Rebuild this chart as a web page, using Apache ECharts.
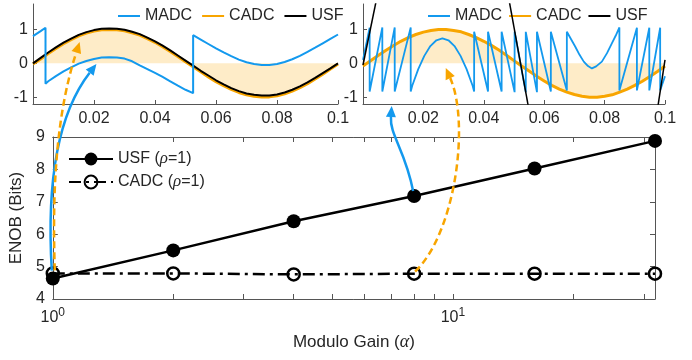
<!DOCTYPE html>
<html>
<head>
<meta charset="utf-8">
<style>html,body{margin:0;padding:0;background:#fff}#main{width:692px;height:360px}</style>
<script src="https://cdn.jsdelivr.net/npm/echarts@6.0.0/dist/echarts.min.js"></script>
</head>
<body>
<div id="main"></div>
<script>
// 主图数据 (ENOB vs 模增益)
var alphaVals = [1, 2, 4, 8, 16, 32];
var usfEnob = [4.63, 5.5, 6.4, 7.18, 8.03, 8.88];
var cadcEnob = [4.79, 4.79, 4.76, 4.78, 4.78, 4.78];
var xTickVals = [1, 2, 3, 4, 5, 6, 7, 8, 9, 10, 20, 30];
var xLabelVals = [1, 10];
var insetYTicks = [-1, 0, 1];

// 小图时间轴
var tGrid = [0, 0.0025, 0.005, 0.0075, 0.01, 0.0125, 0.015, 0.0175, 0.02, 0.0225, 0.025,
    0.0275, 0.03, 0.0325, 0.035, 0.0375, 0.04, 0.0425, 0.045, 0.0475, 0.05,
    0.0525, 0.055, 0.0575, 0.06, 0.0625, 0.065, 0.0675, 0.07, 0.0725, 0.075,
    0.0775, 0.08, 0.0825, 0.085, 0.0875, 0.09, 0.0925, 0.095, 0.0975, 0.1];

// 左小图 (alpha = 1)
var usfLeft = [0, 0.16, 0.32, 0.47, 0.61, 0.73, 0.84, 0.92, 0.98, 1.02, 1.03,
    1.02, 0.99, 0.93, 0.86, 0.76, 0.65, 0.52, 0.38, 0.23, 0.08,
    -0.07, -0.22, -0.36, -0.5, -0.62, -0.73, -0.82, -0.89, -0.93, -0.95,
    -0.95, -0.92, -0.86, -0.78, -0.68, -0.56, -0.43, -0.29, -0.15, 0];
var cadcLeft = [-0.02, 0.13, 0.29, 0.44, 0.58, 0.7, 0.81, 0.89, 0.95, 0.99, 1.0,
    0.99, 0.96, 0.9, 0.83, 0.73, 0.62, 0.49, 0.35, 0.2, 0.05,
    -0.1, -0.25, -0.4, -0.54, -0.66, -0.77, -0.86, -0.93, -0.97, -0.99,
    -0.99, -0.96, -0.9, -0.82, -0.72, -0.6, -0.46, -0.32, -0.17, -0.02];
var madcLeft = [[0, 0.8], [0.0025, 0.95], [0.0041, 1.05], [0.0041, -0.6], [0.005, -0.53],
    [0.0075, -0.38], [0.01, -0.24], [0.0125, -0.12], [0.015, -0.01], [0.0175, 0.07],
    [0.02, 0.13], [0.0225, 0.17], [0.025, 0.18], [0.0275, 0.17], [0.03, 0.14],
    [0.0325, 0.06], [0.035, -0.06], [0.0375, -0.17], [0.04, -0.28], [0.0425, -0.4],
    [0.045, -0.53], [0.0475, -0.66], [0.05, -0.78], [0.0525, -0.88], [0.0525, 0.83],
    [0.055, 0.7], [0.0575, 0.57], [0.06, 0.44], [0.0625, 0.32], [0.065, 0.21],
    [0.0675, 0.11], [0.07, 0.03], [0.0725, -0.02], [0.075, -0.05], [0.0775, -0.05],
    [0.08, -0.02], [0.0825, 0.04], [0.085, 0.12], [0.0875, 0.22], [0.09, 0.34],
    [0.0925, 0.46], [0.095, 0.59], [0.0975, 0.72], [0.1, 0.85]];

// 右小图 (alpha = 8)
var cadcRight = [-0.08, 0.075, 0.23, 0.38, 0.52, 0.65, 0.76, 0.85, 0.92, 0.97, 1.0,
    1.0, 0.97, 0.93, 0.85, 0.76, 0.65, 0.53, 0.39, 0.24, 0.08,
    -0.08, -0.23, -0.38, -0.52, -0.65, -0.76, -0.85, -0.92, -0.97, -1.0,
    -1.0, -0.97, -0.93, -0.85, -0.76, -0.65, -0.53, -0.39, -0.24, -0.08];
var usfRightA = [[0, -0.05], [0.0045, 1.9]];
var usfRightB = [[0.0485, 1.8], [0.0548, -1.3]];
var usfRightC = [[0.0976, -1.3], [0.1, 0.1]];
var madcRight = [[0, 0.1], [0.0022, 1.05], [0.0022, -0.83], [0.0064, 1.06], [0.0064, -0.83],
    [0.0105, 1.06], [0.0105, -0.83], [0.0158, 1.06], [0.0158, -0.83],
    [0.0163, -0.66], [0.0183, -0.17], [0.0203, 0.22], [0.0223, 0.51], [0.0243, 0.68],
    [0.0263, 0.735], [0.0283, 0.68], [0.0303, 0.51], [0.0323, 0.22], [0.0343, -0.17],
    [0.0363, -0.66], [0.0368, -0.83], [0.0368, 0.93], [0.0414, -0.83], [0.0414, 0.93],
    [0.0459, -0.83], [0.0459, 0.93], [0.0502, -0.85], [0.0502, 0.93], [0.0539, -0.85],
    [0.0539, 0.93], [0.0576, -0.85], [0.0576, 0.93], [0.0622, -0.83], [0.0622, 0.93],
    [0.0675, -0.8], [0.0675, 0.93], [0.0703, 0.49], [0.0717, 0.25], [0.0731, 0.05],
    [0.0745, -0.08], [0.0758, -0.15], [0.0772, -0.09], [0.0791, 0.05], [0.0808, 0.3],
    [0.0824, 0.59], [0.0837, 0.82], [0.0849, 1.06], [0.0849, -0.8], [0.0907, 1.05],
    [0.0907, -0.8], [0.0948, 1.05], [0.0948, -0.8], [0.0984, 1.05], [0.0984, -0.8],
    [0.1, -0.38]];

(function() {
    var myChart = echarts.init(document.getElementById('main'));

    var FONT = 'Liberation Sans';
    var TXT = '#262626';
    var AX = '#555';
    var BLUE = '#1399ee';
    var ORANGE = '#f8a500';
    var FILL = 'rgba(250,175,30,0.35)';

    function pairs(xs, ys) {
        var out = [];
        for (var i = 0; i < xs.length; i++) out.push([xs[i], ys[i]]);
        return out;
    }

    function insetX(gi) {
        return {
            gridIndex: gi, type: 'value', min: 0, max: 0.1, interval: 0.02,
            axisLine: { onZero: false, lineStyle: { color: AX, width: 1 } },
            axisTick: { inside: true, length: 4, lineStyle: { color: AX } },
            axisLabel: {
                margin: 7, fontSize: 16, color: TXT, fontFamily: FONT,
                formatter: function(v) { return v === 0 ? '' : String(+v.toFixed(2)); }
            },
            splitLine: { show: false }
        };
    }

    function insetY(gi) {
        return {
            gridIndex: gi, type: 'value', min: -1.2, max: 1.75,
            axisLine: { show: true, onZero: false, lineStyle: { color: AX, width: 1 } },
            axisTick: { show: true, inside: true, length: 4, customValues: insetYTicks, lineStyle: { color: AX } },
            axisLabel: { customValues: insetYTicks, margin: 5, fontSize: 16, color: TXT, fontFamily: FONT },
            splitLine: { show: false }
        };
    }

    function lineSeries(name, xi, data, color, width, z) {
        return {
            name: name, type: 'line', xAxisIndex: xi, yAxisIndex: xi, data: data,
            symbol: 'none', lineStyle: { color: color, width: width }, itemStyle: { color: color },
            z: z, silent: true, animation: false
        };
    }

    function fillSeries(xi, data) {
        return {
            type: 'line', xAxisIndex: xi, yAxisIndex: xi, data: data, symbol: 'none',
            lineStyle: { width: 0 }, areaStyle: { color: FILL, origin: 'auto' },
            z: 1, silent: true, animation: false
        };
    }

    var legendText = { fontSize: 16, color: TXT, fontFamily: FONT };

    option = {
        backgroundColor: '#fff',
        animation: false,
        grid: [
            { left: 33, top: 4, width: 305, height: 100 },
            { left: 363, top: 4, width: 302, height: 100 },
            { left: 51, top: 137, width: 604, height: 162 }
        ],
        legend: [
            {
                left: 118, top: 8, padding: 0, icon: 'rect', itemWidth: 22, itemHeight: 2, itemGap: 10,
                selectedMode: false, data: ['MADC', 'CADC', 'USF'], textStyle: legendText
            },
            {
                left: 428, top: 8, padding: 0, icon: 'rect', itemWidth: 22, itemHeight: 2, itemGap: 7,
                selectedMode: false,
                data: [{ name: 'MADC', textStyle: { width: 66 } }, 'CADC', 'USF'],
                textStyle: legendText
            },
            {
                left: 68, top: 150, padding: 0, orient: 'vertical', itemWidth: 44, itemHeight: 16, itemGap: 5,
                selectedMode: false,
                data: ['USF (ρ=1)', 'CADC (ρ=1)'],
                formatter: function(n) { return n.replace('ρ', '{i|ρ}'); },
                textStyle: {
                    fontSize: 16, color: TXT, fontFamily: FONT, lineHeight: 18,
                    rich: { i: { fontStyle: 'italic', fontFamily: 'Liberation Serif', fontSize: 17, color: TXT } }
                }
            }
        ],
        xAxis: [
            insetX(0),
            insetX(1),
            {
                gridIndex: 2, type: 'log', logBase: 10, min: 1, max: 32,
                name: '{n|Modulo Gain (}{i|α}{n|)}', nameLocation: 'middle', nameGap: 34,
                nameTextStyle: {
                    rich: {
                        n: { fontSize: 17, color: TXT, fontFamily: FONT },
                        i: { fontSize: 18, color: TXT, fontFamily: 'Liberation Serif', fontStyle: 'italic' }
                    }
                },
                axisLine: { onZero: false, lineStyle: { color: AX, width: 1 } },
                axisTick: { inside: true, length: 5, customValues: xTickVals, lineStyle: { color: AX } },
                axisLabel: {
                    customValues: xLabelVals, margin: 8,
                    formatter: function(v) { return '{b|10}{s|' + Math.round(Math.log(v) / Math.LN10) + '}'; },
                    rich: {
                        b: { fontSize: 16, color: TXT, fontFamily: FONT },
                        s: { fontSize: 12, color: TXT, fontFamily: FONT, padding: [0, 0, 9, 0] }
                    }
                },
                splitLine: { show: false }
            },
            {
                gridIndex: 2, type: 'log', logBase: 10, min: 1, max: 32, position: 'top',
                axisLine: { onZero: false, lineStyle: { color: AX, width: 1 } },
                axisTick: { inside: true, length: 5, customValues: xTickVals, lineStyle: { color: AX } },
                axisLabel: { show: false },
                splitLine: { show: false }
            }
        ],
        yAxis: [
            insetY(0),
            insetY(1),
            {
                gridIndex: 2, type: 'value', min: 4, max: 9, interval: 1,
                name: 'ENOB (Bits)', nameLocation: 'middle', nameGap: 20,
                nameTextStyle: { fontSize: 17, color: TXT, fontFamily: FONT },
                axisLine: { show: true, onZero: false, lineStyle: { color: AX, width: 1 } },
                axisTick: { show: true, inside: true, length: 5, lineStyle: { color: AX } },
                axisLabel: { margin: 8, fontSize: 16, color: TXT, fontFamily: FONT },
                splitLine: { show: false }
            },
            {
                gridIndex: 2, type: 'value', min: 4, max: 9, interval: 1, position: 'right',
                axisLine: { show: true, onZero: false, lineStyle: { color: AX, width: 1 } },
                axisTick: { show: true, inside: true, length: 5, lineStyle: { color: AX } },
                axisLabel: { show: false },
                splitLine: { show: false }
            }
        ],
        series: [
            // 左小图
            fillSeries(0, pairs(tGrid, cadcLeft)),
            lineSeries('CADC', 0, pairs(tGrid, cadcLeft), ORANGE, 3, 2),
            lineSeries('USF', 0, pairs(tGrid, usfLeft), '#000', 2, 3),
            lineSeries('MADC', 0, madcLeft, BLUE, 2, 4),
            // 右小图
            fillSeries(1, pairs(tGrid, cadcRight)),
            lineSeries('CADC', 1, pairs(tGrid, cadcRight), ORANGE, 3, 2),
            lineSeries('MADC', 1, madcRight, BLUE, 1.8, 3),
            lineSeries('USF', 1, usfRightA, '#000', 1.5, 4),
            lineSeries('USF', 1, usfRightB, '#000', 1.5, 4),
            lineSeries('USF', 1, usfRightC, '#000', 1.5, 4),
            // 主图
            {
                name: 'USF (ρ=1)', type: 'line', xAxisIndex: 2, yAxisIndex: 2,
                data: pairs(alphaVals, usfEnob), symbol: 'circle', symbolSize: 14,
                lineStyle: { color: '#000', width: 2.5 }, itemStyle: { color: '#000' }, z: 5
            },
            {
                name: 'CADC (ρ=1)', type: 'line', xAxisIndex: 2, yAxisIndex: 2,
                data: pairs(alphaVals, cadcEnob), symbol: 'circle', symbolSize: 12,
                lineStyle: { color: '#000', width: 2.5, type: [12, 5, 3, 5] },
                itemStyle: { color: 'rgba(255,255,255,0)', borderColor: '#000', borderWidth: 2.5 }, z: 5
            }
        ]
    };

    myChart.setOption(option);

    // 箭头: 从主图的点指向小图
    function px(xi, p) {
        return myChart.convertToPixel({ xAxisIndex: xi, yAxisIndex: xi }, p);
    }
    function add(p, d) { return [p[0] + d[0], p[1] + d[1]]; }
    function arrow(p0, c1, c2, tip, color, dashed) {
        var dx = tip[0] - c2[0], dy = tip[1] - c2[1];
        var len = Math.sqrt(dx * dx + dy * dy);
        dx /= len; dy /= len;
        var L = 11, W = 5;
        var base = [tip[0] - dx * L, tip[1] - dy * L];
        var nx = -dy, ny = dx;
        return [{
            type: 'bezierCurve', z: 100, silent: true,
            shape: { x1: p0[0], y1: p0[1], cpx1: c1[0], cpy1: c1[1], cpx2: c2[0], cpy2: c2[1], x2: base[0], y2: base[1] },
            style: { stroke: color, lineWidth: 2.5, fill: 'none', lineDash: dashed ? [7, 4] : null }
        }, {
            type: 'polygon', z: 100, silent: true,
            shape: { points: [tip, [base[0] + nx * W, base[1] + ny * W], [base[0] - nx * W, base[1] - ny * W]] },
            style: { fill: color }
        }];
    }

    var b1p = add(px(2, [alphaVals[0], usfEnob[0]]), [-1, -8]);
    var b1t = px(0, [0.0208, -0.02]);
    var o1p = add(px(2, [alphaVals[0], cadcEnob[0]]), [2, -3]);
    var o1t = px(0, [0.0153, 0.63]);
    var b2p = add(px(2, [alphaVals[3], usfEnob[3]]), [-1, -5]);
    var b2t = px(1, [0.0095, -1.26]);
    var o2p = add(px(2, [alphaVals[3], cadcEnob[3]]), [1, -2]);
    var o2t = px(1, [0.0274, -0.14]);

    var g = [].concat(
        arrow(b1p, add(b1p, [-6, -100]), add(b1t, [-35, 45]), b1t, BLUE, false),
        arrow(o1p, add(o1p, [-3, -90]), add(o1t, [-22, 68]), o1t, ORANGE, true),
        arrow(b2p, add(b2p, [-8, -41]), add(b2t, [-2, 29]), b2t, BLUE, false),
        arrow(o2p, add(o2p, [41, -40]), add(o2t, [24, 54]), o2t, ORANGE, true)
    );
    myChart.setOption({ graphic: g });

    window.addEventListener('resize', function() {
        myChart.resize();
    });
})();
</script>
</body>
</html>
